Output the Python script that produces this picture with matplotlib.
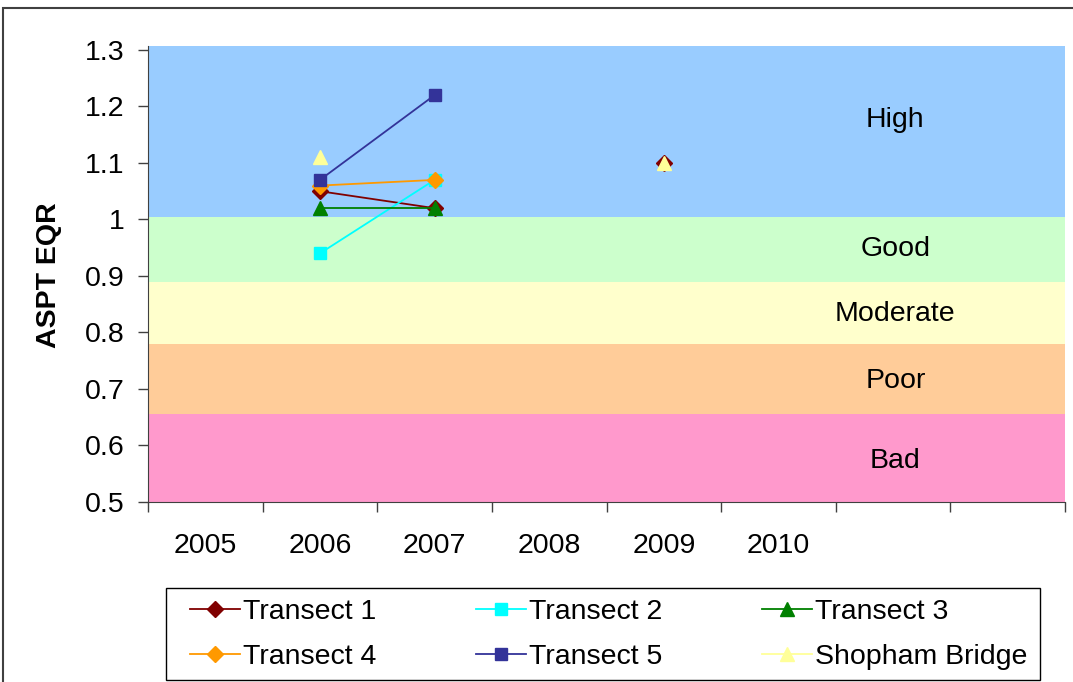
import matplotlib
matplotlib.use("Agg")
import matplotlib.pyplot as plt
import numpy as np
from matplotlib.patches import Rectangle

plt.rcParams['font.family'] = ['Liberation Sans', 'DejaVu Sans']

# Category slots (two trailing slots left empty)
years = ["2005", "2006", "2007", "2008", "2009", "2010", "", ""]

# Series values per year slot (None = no sample)
transect1 = [None, 1.05, 1.02, None, 1.10, None, None, None]
transect2 = [None, 0.94, 1.07, None, None, None, None, None]
transect3 = [None, 1.02, 1.02, None, None, None, None, None]
transect4 = [None, 1.06, 1.07, None, None, None, None, None]
transect5 = [None, 1.07, 1.22, None, None, None, None, None]
shopham = [None, 1.11, None, None, 1.10, None, None, None]

series_names = ["Transect 1", "Transect 2", "Transect 3",
                "Transect 4", "Transect 5", "Shopham Bridge"]

# Status class bands
band_names = ["Bad", "Poor", "Moderate", "Good", "High"]
band_edges = [0.5, 0.655, 0.78, 0.89, 1.005, 1.307]
band_label_y = [0.572, 0.714, 0.833, 0.948, 1.176]
band_colors = ["#FF99CC", "#FFCC99", "#FFFFCC", "#CCFFCC", "#99CCFF"]

FS = 20.5
W, H = 1073, 682
fig = plt.figure(figsize=(W / 100, H / 100), dpi=100)
ax = fig.add_axes([148 / W, 1 - 502 / H, (1065 - 148) / W, (502 - 46) / H])

n = len(years)
ax.set_xlim(0, n)
ax.set_ylim(0.5, 1.307)

for lo, hi, c in zip(band_edges[:-1], band_edges[1:], band_colors):
    ax.axhspan(lo, hi, color=c, lw=0, zorder=0)
for name, y in zip(band_names, band_label_y):
    ax.text(6.52, y, name, ha='center', va='center', fontsize=FS, zorder=1)

x = np.arange(n) + 0.5

def arr(v):
    return np.array([np.nan if a is None else a for a in v], dtype=float)

styles = [
    (transect1, "#800000", "D", 8),
    (transect2, "#00FFFF", "s", 8),
    (transect3, "#008000", "^", 10),
    (transect4, "#FF9900", "D", 8),
    (transect5, "#333399", "s", 8),
    (shopham, "#FFFF99", "^", 10),
]
handles = []
for (vals, col, mk, ms), name in zip(styles, series_names):
    h, = ax.plot(x, arr(vals), color=col, marker=mk, markersize=ms,
                 markeredgecolor=col, markerfacecolor=col, lw=1.3,
                 label=name, zorder=3, clip_on=False)
    handles.append(h)

# Axes styling
for s in ["top", "right"]:
    ax.spines[s].set_visible(False)
ax.spines["left"].set_color("#404040")
ax.spines["bottom"].set_color("#404040")
ax.spines["left"].set_zorder(5)

ax.set_yticks(np.arange(0.5, 1.31, 0.1))
ax.set_yticklabels(["0.5", "0.6", "0.7", "0.8", "0.9", "1", "1.1", "1.2", "1.3"])
ax.tick_params(axis='y', direction='out', length=7, width=1, color="#404040",
               labelsize=FS, pad=10)

ax.set_xticks(np.arange(0, n + 1))
ax.set_xticklabels([])
ax.set_xticks(x, minor=True)
ax.set_xticklabels(years, minor=True)
ax.tick_params(axis='x', which='major', direction='out', length=7, width=1,
               color="#404040")
ax.tick_params(axis='x', which='minor', length=0, labelsize=FS, pad=22)

ax.set_ylabel("ASPT EQR", fontsize=FS, fontweight='bold')
ax.yaxis.set_label_coords(-86 / (1065 - 148), (502 - 275) / (502 - 46))

# Legend filled row by row: reorder for matplotlib's column-major layout
order = [0, 3, 1, 4, 2, 5]
leg = fig.legend(handles=[handles[i] for i in order], ncol=3, loc='upper left',
                 bbox_to_anchor=(190 / W, 1 - 599 / H),
                 fontsize=FS, frameon=False, handlelength=1.75,
                 handletextpad=0.12, labelspacing=0.68, borderaxespad=0,
                 borderpad=0, columnspacing=3.49)

# Legend box
fig.patches.append(Rectangle((166 / W, 1 - 680 / H), (1040 - 166) / W, 92 / H,
                             transform=fig.transFigure, fill=False,
                             edgecolor="black", lw=1.0))

# Chart area border
fig.patches.append(Rectangle((3 / W, -0.1), 1.2, 1.1 - 8 / H,
                             transform=fig.transFigure, fill=False,
                             edgecolor="#404040", lw=1.5))

fig.savefig("out.png", dpi=100)
